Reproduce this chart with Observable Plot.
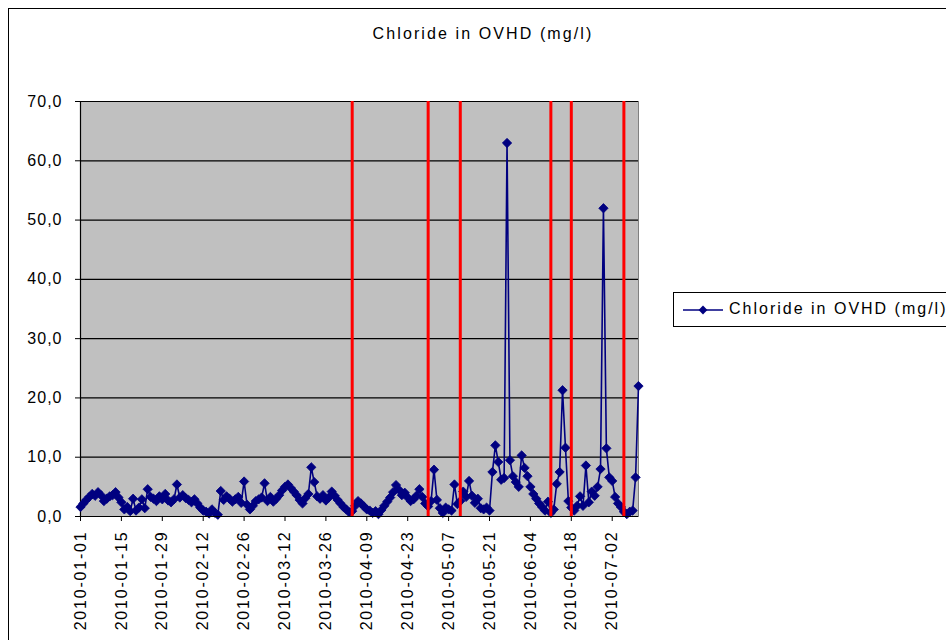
<!DOCTYPE html>
<html>
<head>
<meta charset="utf-8">
<script src="https://cdn.jsdelivr.net/npm/d3@7"></script>
<script src="https://cdn.jsdelivr.net/npm/@observablehq/plot@0.6"></script>
<style>
  html, body { margin: 0; padding: 0; background: #fff; overflow: hidden; }
  body { width: 946px; height: 640px; position: relative; font-family: "Liberation Sans", Arial, sans-serif; }
  #frame { position: absolute; left: 8px; top: 8px; width: 1000px; height: 700px; border: 1px solid #000; box-sizing: border-box; }
  #title { position: absolute; left: 0; width: 966px; top: 25px; text-align: center; font-size: 16px; letter-spacing: 2.1px; color: #000; }
  #chart { position: absolute; left: 0; top: 0; }
  #legend { position: absolute; left: 673px; top: 292px; width: 400px; height: 35px; border: 1px solid #000; box-sizing: border-box; background: #fff; }
  #legend svg { position: absolute; left: 8px; top: 8px; }
  #legend span { position: absolute; left: 55px; top: 7px; font-size: 16px; letter-spacing: 2px; white-space: nowrap; }
  #chart g[aria-label="x-axis tick label"] text { letter-spacing: 1.8px; }
  #chart g[aria-label="y-axis tick label"] text { letter-spacing: 1px; }
</style>
</head>
<body>
<div id="frame"></div>
<div id="title"></div>
<div id="chart"></div>
<div id="legend"></div>
<script>
const chartTitle = "Chloride in OVHD (mg/l)";
const seriesName = "Chloride in OVHD (mg/l)";
const startDate = "2010-01-01";
const endDate = "2010-07-11";
// daily values, starting 2010-01-01
const chlorideValues = [
  1.6, 2.2, 2.8, 3.3, 3.8, 3.5, 4.1, 3.6, 2.6, 3.0,
  3.4, 3.6, 4.1, 3.2, 2.4, 1.2, 1.6, 0.9, 3.0, 1.0,
  1.5, 2.9, 1.4, 4.6, 3.3, 3.0, 2.6, 3.4, 2.9, 3.8,
  2.7, 2.4, 2.9, 5.4, 3.2, 3.6, 3.1, 2.8, 2.4, 2.9,
  2.2, 1.5, 1.0, 0.8, 0.5, 1.2, 0.6, 0.3, 4.3, 2.8,
  3.4, 3.0, 2.5, 2.9, 3.3, 2.3, 5.9, 2.0, 1.2, 1.8,
  2.6, 2.9, 3.2, 5.6, 2.6, 3.3, 2.5, 3.0, 3.6, 4.4,
  5.0, 5.4, 4.8, 4.2, 3.6, 2.8, 2.2, 3.1, 3.8, 8.3,
  5.8, 3.4, 3.0, 3.6, 2.7, 3.2, 4.2, 3.5, 2.8, 2.2,
  1.6, 1.2, 0.7, 0.9, 1.8, 2.6, 2.2, 1.7, 1.2, 1.0,
  0.6, 0.9, 0.4, 1.1, 1.8, 2.5, 3.2, 4.1, 5.3, 4.5,
  3.6, 4.0, 3.2, 2.6, 2.9, 3.5, 4.6, 3.3, 2.2, 1.7,
  2.6, 7.9, 2.8, 1.4, 0.6, 1.5, 1.2, 1.0, 5.4, 2.1,
  2.6, 4.2, 3.3, 6.0, 3.5, 2.3, 3.0, 1.4, 1.2, 1.5,
  1.0, 7.5, 12.0, 9.2, 6.2, 6.5, 63.0, 9.5, 6.8, 5.8,
  5.0, 10.3, 8.2, 6.8, 5.0, 3.8, 3.0, 2.2, 1.6, 1.0,
  2.5, 0.6, 1.2, 5.5, 7.5, 21.3, 11.6, 2.6, 1.5, 1.0,
  1.8, 3.4, 1.8, 8.6, 2.4, 4.2, 3.5, 5.0, 8.0, 52.0,
  11.5, 6.6, 6.0, 3.3, 2.2, 1.6, 0.8, 0.4, 0.8, 1.0,
  6.6, 22.0
];
const markerDates = ["2010-04-04", "2010-04-30", "2010-05-11", "2010-06-11", "2010-06-18", "2010-07-06"];
const xTickDates = ["2010-01-01", "2010-01-15", "2010-01-29", "2010-02-12", "2010-02-26", "2010-03-12",
  "2010-03-26", "2010-04-09", "2010-04-23", "2010-05-07", "2010-05-21", "2010-06-04", "2010-06-18", "2010-07-02"];
const yTicks = [0, 10, 20, 30, 40, 50, 60, 70];
const yTickLabels = ["0,0", "10,0", "20,0", "30,0", "40,0", "50,0", "60,0", "70,0"];

const parse = d3.utcParse("%Y-%m-%d");
const fmt = d3.utcFormat("%Y-%m-%d");
const start = parse(startDate);
const data = chlorideValues.map((v, i) => ({date: d3.utcDay.offset(start, i), value: v}));
const markers = markerDates.map(parse);
const xTicks = xTickDates.map(parse);

document.getElementById("title").textContent = chartTitle;

const navy = "#000080";
const plot = Plot.plot({
  width: 946,
  height: 640,
  marginLeft: 80,
  marginRight: 308,
  marginTop: 101,
  marginBottom: 124,
  style: {fontFamily: "'Liberation Sans', Arial, sans-serif", fontSize: "16px", background: "transparent", overflow: "visible"},
  x: {type: "utc", domain: [start, parse(endDate)]},
  y: {domain: [0, 70]},
  marks: [
    Plot.frame({fill: "#c0c0c0", stroke: "#808080"}),
    Plot.ruleY(yTicks, {stroke: "#000", strokeWidth: 1.2}),
    Plot.axisY({ticks: yTicks, tickFormat: (d) => yTickLabels[yTicks.indexOf(d)], tickSize: 5, tickPadding: 13, label: null, fill: "#000"}),
    Plot.axisX({ticks: xTicks, tickFormat: fmt, tickSize: 5, tickPadding: 9, tickRotate: -90, label: null, fill: "#000"}),
    Plot.ruleX([start], {stroke: "#000", strokeWidth: 1.2}),
    Plot.line(data, {x: "date", y: "value", stroke: navy, strokeWidth: 1.6}),
    Plot.dot(data, {x: "date", y: "value", symbol: "diamond2", r: 4.2, fill: navy, stroke: navy, strokeWidth: 0.8}),
    Plot.ruleX(markers, {y1: 0, y2: 70, stroke: "#ff0000", strokeWidth: 3}),
    Plot.ruleY([0], {stroke: "#000", strokeWidth: 1.2})
  ]
});
document.getElementById("chart").appendChild(plot);

// legend
const lg = document.getElementById("legend");
const ls = d3.create("svg").attr("width", 44).attr("height", 18);
ls.append("line").attr("x1", 1).attr("x2", 41).attr("y1", 9).attr("y2", 9).attr("stroke", navy).attr("stroke-width", 1.6);
ls.append("path").attr("d", d3.symbol(d3.symbolDiamond2, 50)()).attr("transform", "translate(21,9)").attr("fill", navy);
lg.appendChild(ls.node());
const sp = document.createElement("span");
sp.textContent = seriesName;
lg.appendChild(sp);
</script>
</body>
</html>
